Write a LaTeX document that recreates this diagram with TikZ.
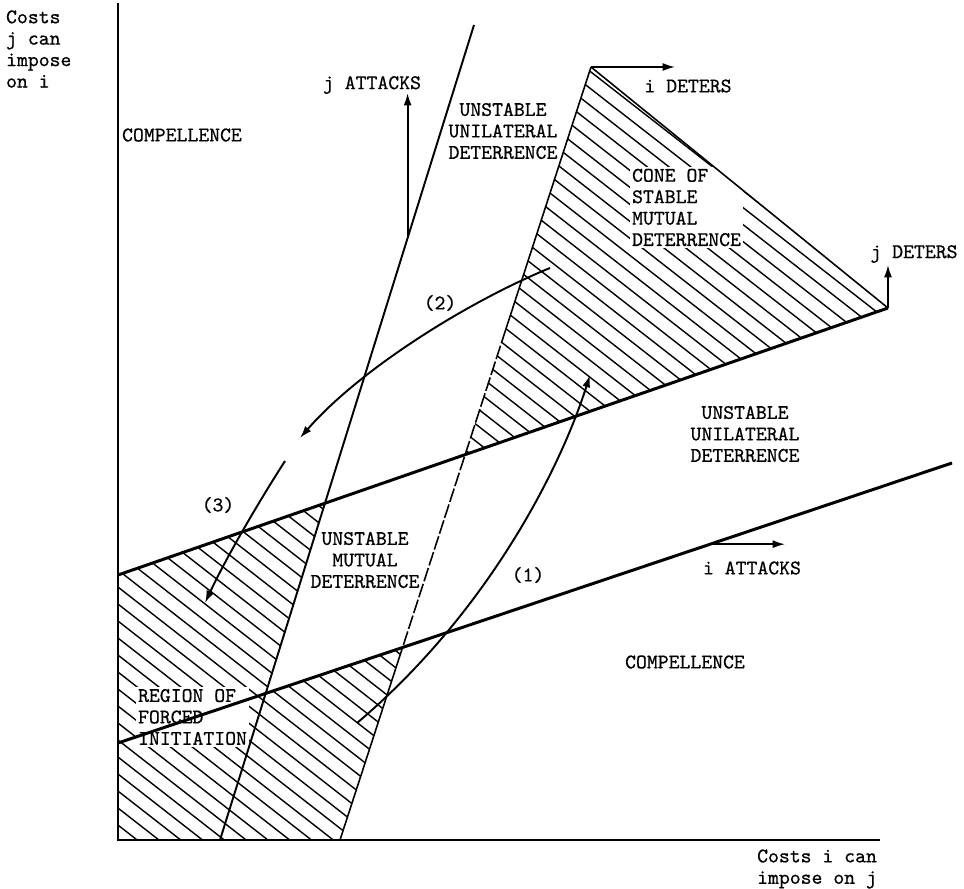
\documentclass[tikz,border=0pt]{standalone}
\usepackage{fontspec}
\newfontfamily\typew[FakeBold=0.6]{lmmono10-regular.otf}
\usetikzlibrary{arrows.meta}
\usetikzlibrary{calc}

\begin{document}
\begin{tikzpicture}[x=0.02cm,y=-0.02cm,
    >={Latex[length=7pt,width=4.5pt]},
    every node/.style={font=\fontsize{11.8}{12.2}\selectfont\typew},
    lbl/.style={align=center,inner sep=1pt},
    hatch/.style={line width=0.8pt},
    bound/.style={line width=1.7pt},
    edge/.style={line width=0.9pt},
    move/.style={line width=1.1pt}]

    \useasboundingbox (0,0) rectangle (964,889);

    % corner points of the lines
    \coordinate (O) at (118,840);
    \coordinate (ytop) at (118,3);
    \coordinate (xend) at (880,840);
    \coordinate (Ab) at (220,840);
    \coordinate (At) at (474,25);
    \coordinate (Bb) at (340,840);
    \coordinate (Bt) at (591,67);
    \coordinate (Cs) at (118,575);
    \coordinate (Ce) at (888,308);
    \coordinate (Ds) at (118,743);
    \coordinate (De) at (952,463);

    % crossings
    \coordinate (AC) at (intersection of Ab--At and Cs--Ce);
    \coordinate (AD) at (intersection of Ab--At and Ds--De);
    \coordinate (BC) at (intersection of Bb--Bt and Cs--Ce);
    \coordinate (BD) at (intersection of Bb--Bt and Ds--De);
    \coordinate (Bm) at ($(Bt)!0.34!(Bb)$);

    % hatching: cone of stable mutual deterrence
    \begin{scope}
        \clip (Bt) -- (Ce) -- (BC) -- cycle;
        \foreach \b in {-780,-763,...,900}
            \draw[hatch] (0,\b) -- (964,\b+752);
    \end{scope}

    % hatching: region of forced initiation
    \begin{scope}
        \clip (Cs) -- (AC) -- (AD) -- (BD) -- (Bb) -- (O) -- cycle;
        \foreach \b in {-780,-763,...,900}
            \draw[hatch] (0,\b) -- (964,\b+752);
    \end{scope}

    % labels that break the hatching
    \node[lbl,fill=white,align=left,anchor=west] (cone) at (630,207.5) {CONE OF\\STABLE\\MUTUAL\\DETERRENCE};
    \node[lbl,fill=white,align=left,anchor=west] (forced) at (136,717) {REGION OF\\FORCED\\INITIATION};

    % the four lines
    \draw[move] (Ab) -- (At);
    \draw[edge] (Bt) -- (Bm);
    \draw[edge,dash pattern=on 8pt off 1.5pt] (Bm) -- (BD);
    \draw[edge] (BD) -- (Bb);
    \draw[edge] (Bt) -- (Ce);
    \draw[bound] (Cs) -- (Ce);
    \draw[bound] (Ds) -- (De);

    % axes
    \draw[line width=1.6pt] (ytop) -- (O) -- (xend);

    % short arrows
    \coordinate (idtip) at (675,67);
    \coordinate (jabase) at (407.6,238);
    \coordinate (jatip) at (407.6,93);
    \coordinate (jdtip) at (888,265);
    \coordinate (iabase) at (710,544.2);
    \coordinate (iatip) at (785,544.2);
    \draw[->,edge] (Bt) -- (idtip);
    \draw[->,move] (jabase) -- (jatip);
    \draw[->,edge] (Ce) -- (jdtip);
    \draw[->,edge] (iabase) -- (iatip);

    % moves (1), (2), (3)
    \coordinate (c1s) at (357,723);
    \coordinate (c1e) at (590,375);
    \coordinate (c2s) at (550,268);
    \coordinate (c2e) at (300,438);
    \coordinate (c3s) at (285,461);
    \coordinate (c3e) at (205,603);
    \draw[->,move] (c1s) .. controls (487,613) and (560,470) .. (c1e);
    \draw[->,move] (c2s) .. controls (467,302) and (359,370) .. (c2e);
    \draw[->,move] (c3s) .. controls (258,503) and (226,558) .. (c3e);

    % region names
    \node[lbl] (compelltop) at (182,135) {COMPELLENCE};
    \node[lbl] (compellbot) at (685,662) {COMPELLENCE};
    \node[lbl] (uudtop) at (503,131) {UNSTABLE\\UNILATERAL\\DETERRENCE};
    \node[lbl] (uudright) at (745,434) {UNSTABLE\\UNILATERAL\\DETERRENCE};
    \node[lbl] (umd) at (365,560) {UNSTABLE\\MUTUAL\\DETERRENCE};
    \node[lbl] (jattacks) at (372,85) {j ATTACKS};
    \node[lbl] (ideters) at (688,86) {i DETERS};
    \node[lbl] (jdeters) at (914,254) {j DETERS};
    \node[lbl] (iattacks) at (752,568) {i ATTACKS};
    \node[lbl] (lab1) at (528,575) {(1)};
    \node[lbl] (lab2) at (440,303) {(2)};
    \node[lbl] (lab3) at (218,505) {(3)};

    % axis labels
    \node[lbl,align=left,anchor=west] (ylabel) at (4,49) {Costs\\j can\\impose\\on i};
    \node[lbl,align=right,anchor=east] (xlabel) at (879,869) {Costs i can\\impose on j};

\end{tikzpicture}
\end{document}
